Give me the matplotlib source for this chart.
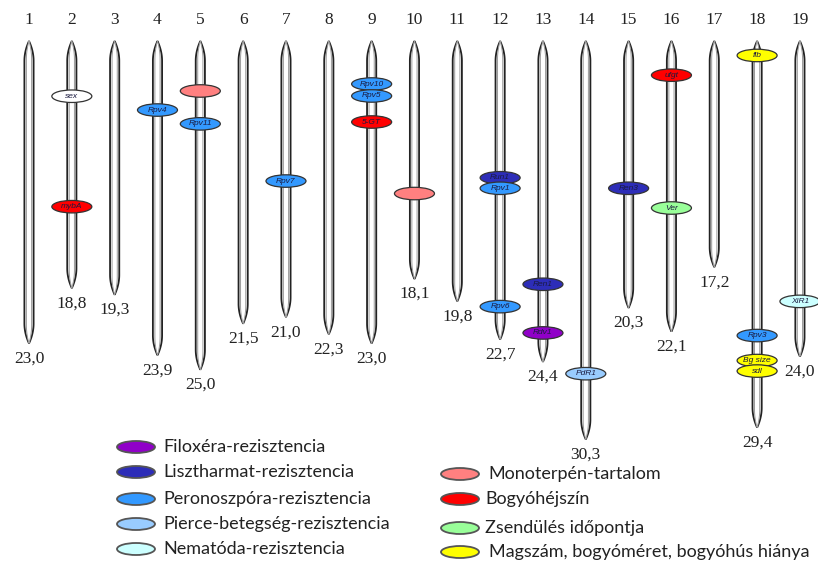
import numpy as np
import matplotlib
matplotlib.use("Agg")
from matplotlib import pyplot as plt
from matplotlib.patches import Ellipse, Polygon

# kromoszómák és hosszuk
chrom_ids = list(range(1, 20))
chrom_len = [23.0, 18.8, 19.3, 23.9, 25.0, 21.5, 21.0, 22.3, 23.0, 18.1,
             19.8, 22.7, 24.4, 30.3, 20.3, 22.1, 17.2, 29.4, 24.0]

# markerek: kromoszóma, pozíció, név, kategória
marker_chrom = [2, 2, 4, 5, 5, 7, 9, 9, 9, 10, 12, 12, 12, 13, 13, 14, 15,
                16, 16, 18, 18, 18, 18, 19]
marker_pos = [4.2, 12.6, 5.25, 3.8, 6.3, 10.65, 3.27, 4.18, 6.16, 11.6,
              10.4, 11.2, 20.2, 18.5, 22.2, 25.3, 11.2, 2.6, 12.7, 1.1,
              22.4, 24.3, 25.1, 19.8]
marker_name = ["sex", "mybA", "Rpv4", "", "Rpv11", "Rpv7", "Rpv10", "Rpv5",
               "5-GT", "", "Run1", "Rpv1", "Rpv6", "Ren1", "Rdv1", "PdR1",
               "Ren3", "ufgt", "Ver", "flb", "Rpv3", "Bg size", "sdl", "XiR1"]
marker_cat = ["sex", "skin", "pero", "mono", "pero", "pero", "pero", "pero",
              "skin", "mono", "liszt", "pero", "pero", "liszt", "filox",
              "pierce", "liszt", "skin", "ver", "seed", "pero", "seed",
              "seed", "nema"]

colors = {
    "sex": "#ffffff",
    "filox": "#9000c8",
    "liszt": "#2d2db8",
    "pero": "#3399ff",
    "pierce": "#99ccff",
    "nema": "#ccffff",
    "mono": "#ff8080",
    "skin": "#ff0000",
    "ver": "#99ff99",
    "seed": "#ffff00",
}

# jelmagyarázat (bal és jobb oszlop)
legend_left = ["filox", "liszt", "pero", "pierce", "nema"]
legend_left_txt = ["Filoxéra-rezisztencia", "Lisztharmat-rezisztencia",
                   "Peronoszpóra-rezisztencia", "Pierce-betegség-rezisztencia",
                   "Nematóda-rezisztencia"]
legend_right = ["mono", "skin", "ver", "seed"]
legend_right_txt = ["Monoterpén-tartalom", "Bogyóhéjszín", "Zsendülés időpontja",
                    "Magszám, bogyóméret, bogyóhús hiánya"]

W, H = 818, 563
px_x = 42.83   # pixel / kromoszóma
px_y = 13.15   # pixel / egység
x0_px, y0_px = 29, 41

fig = plt.figure(figsize=(W / 100, H / 100), dpi=100)
ax = fig.add_axes([0, 0, 1, 1])
ax.set_xlim(1 - x0_px / px_x, 1 + (W - x0_px) / px_x)
ax.set_ylim((H - y0_px) / px_y, -y0_px / px_y)
ax.axis("off")


def rod(x, length, hw_px, tip_px):
    hw = hw_px / px_x
    tip = tip_px / px_y
    d = np.linspace(0, tip, 30)
    w = hw * (1 - (1 - d / tip) ** 2)
    top = list(zip(x - w, d))
    bot = list(zip(x - w[::-1], length - d[::-1]))
    left = top + bot
    right = [(2 * x - a, b) for a, b in left[::-1]]
    return left + right


# kromoszómák rajzolása
for cid, L in zip(chrom_ids, chrom_len):
    ax.add_patch(Polygon(rod(cid, L, 4.6, 20), closed=True, facecolor="white",
                         edgecolor="#222222", lw=1.3, zorder=2))
    ax.add_patch(Polygon(rod(cid, L, 2.6, 18), closed=True, facecolor="white",
                         edgecolor="#9a9a9a", lw=0.7, zorder=2))
    ax.text(cid, -20.5 / px_y, str(cid), ha="center", va="center",
            family="Liberation Serif", fontsize=12.5, color="#222222")
    ax.text(cid, L + 15 / px_y, f"{L:.1f}".replace(".", ","), ha="center",
            va="center", family="Liberation Serif", fontsize=12.5,
            color="#222222")

# markerek
mw, mh = 40 / px_x, 12.5 / px_y
for c, p, n, k in zip(marker_chrom, marker_pos, marker_name, marker_cat):
    ax.add_patch(Ellipse((c, p), mw, mh, facecolor=colors[k],
                         edgecolor="#333333", lw=0.9, zorder=4))
    if n:
        ax.text(c, p, n, ha="center", va="center", fontsize=6,
                family="Liberation Sans", style="italic", color="#1a1a40",
                zorder=5)

# jelmagyarázat
def legend_item(xc, y, cat, txt, xt):
    ax.add_patch(Ellipse((xc / px_x + ax.get_xlim()[0], y / px_y + ax.get_ylim()[1]),
                         38 / px_x, 12 / px_y, facecolor=colors[cat],
                         edgecolor="#555555", lw=1.3, zorder=4))
    ax.text(xt / px_x + ax.get_xlim()[0], y / px_y + ax.get_ylim()[1], txt,
            ha="left", va="center", family="Lato", fontsize=13, color="#222222")


for i, (k, t) in enumerate(zip(legend_left, legend_left_txt)):
    legend_item(136, [447, 472, 499, 524, 549][i], k, t, 163)
for i, (k, t) in enumerate(zip(legend_right, legend_right_txt)):
    legend_item(460, [474, 499, 528, 552][i], k, t, [488, 485, 485, 489][i])

fig.savefig("out.png", dpi=100)
